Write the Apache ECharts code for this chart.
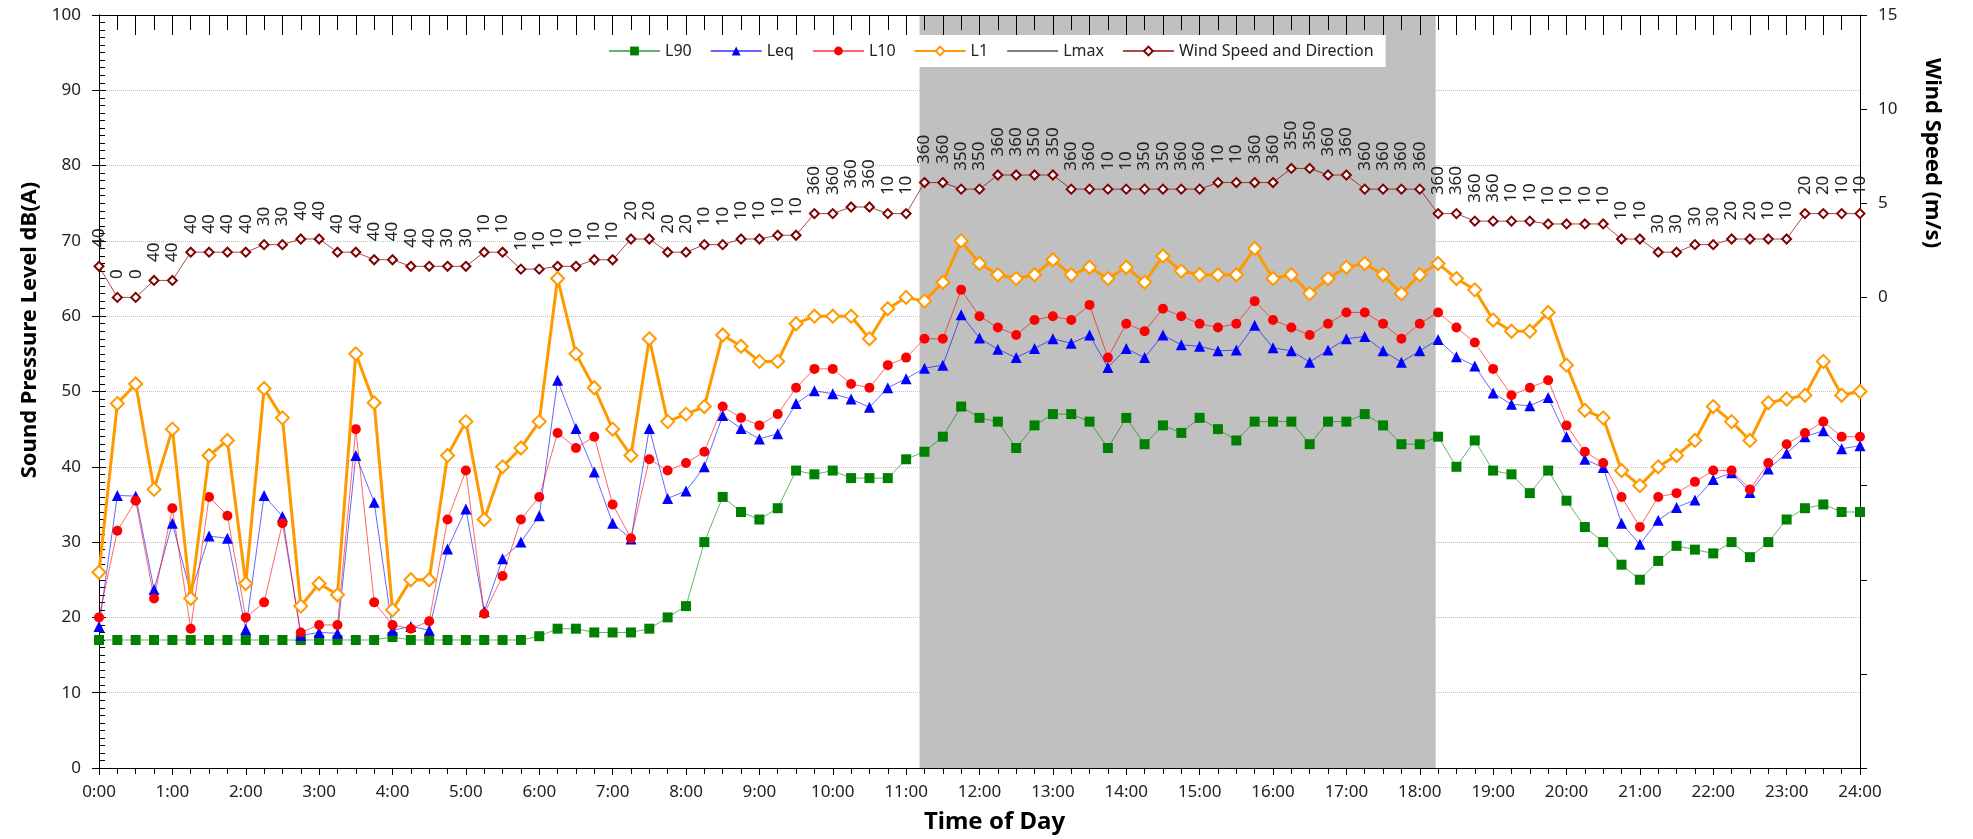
<!DOCTYPE html>
<html>
<head>
<meta charset="utf-8">
<script src="https://cdn.jsdelivr.net/npm/echarts@6/dist/echarts.min.js"></script>
<style>
  html, body { margin: 0; padding: 0; background: #fff; }
  #chart { width: 1973px; height: 839px; }
</style>
</head>
<body>
<div id="chart"></div>
<script>
// 15-minute intervals, 0:00 .. 24:00
const l90 = [17, 17, 17, 17, 17, 17, 17, 17, 17, 17, 17, 17, 17, 17, 17, 17, 17.4, 17, 17, 17, 17, 17, 17, 17, 17.5,
  18.5, 18.5, 18, 18, 18, 18.5, 20, 21.5, 30, 36, 34, 33, 34.5, 39.5, 39, 39.5, 38.5, 38.5, 38.5, 41, 42, 44, 48,
  46.5, 46, 42.5, 45.5, 47, 47, 46, 42.5, 46.5, 43, 45.5, 44.5, 46.5, 45, 43.5, 46, 46, 46, 43, 46, 46, 47, 45.5, 43, 43,
  44, 40, 43.5, 39.5, 39, 36.5, 39.5, 35.5, 32, 30, 27, 25, 27.5, 29.5, 29, 28.5, 30, 28, 30, 33, 34.5, 35, 34, 34]
const leq = [18.8, 36.2, 36.1, 23.7, 32.5, 23.2, 30.8, 30.5, 18.4, 36.2, 33.4, 17.6, 18, 17.9, 41.5, 35.3, 18.3, 18.8, 18.3, 29.1, 34.4, 20.8, 27.8, 30, 33.5,
  51.5, 45.1, 39.3, 32.5, 30.4, 45.1, 35.8, 36.8, 40, 46.8, 45.1, 43.7, 44.4, 48.4, 50.1, 49.7, 49, 47.9, 50.5, 51.7, 53.1, 53.5, 60.2,
  57.1, 55.6, 54.5, 55.7, 57, 56.4, 57.5, 53.2, 55.7, 54.5, 57.5, 56.2, 56, 55.4, 55.5, 58.8, 55.8, 55.4, 53.9, 55.5, 57, 57.3, 55.4, 53.9, 55.4,
  56.9, 54.6, 53.4, 49.8, 48.3, 48.1, 49.2, 44, 41, 39.9, 32.5, 29.7, 32.9, 34.6, 35.6, 38.3, 39.2, 36.6, 39.7, 41.8, 44, 44.8, 42.4, 42.8]
const l10 = [20, 31.5, 35.5, 22.5, 34.5, 18.5, 36, 33.5, 20, 22, 32.5, 18, 19, 19, 45, 22, 19, 18.5, 19.5, 33, 39.5, 20.5, 25.5, 33, 36,
  44.5, 42.5, 44, 35, 30.5, 41, 39.5, 40.5, 42, 48, 46.5, 45.5, 47, 50.5, 53, 53, 51, 50.5, 53.5, 54.5, 57, 57, 63.5,
  60, 58.5, 57.5, 59.5, 60, 59.5, 61.5, 54.5, 59, 58, 61, 60, 59, 58.5, 59, 62, 59.5, 58.5, 57.5, 59, 60.5, 60.5, 59, 57, 59,
  60.5, 58.5, 56.5, 53, 49.5, 50.5, 51.5, 45.5, 42, 40.5, 36, 32, 36, 36.5, 38, 39.5, 39.5, 37, 40.5, 43, 44.5, 46, 44, 44]
const l1 = [26, 48.4, 51, 37, 45, 22.5, 41.5, 43.5, 24.5, 50.4, 46.5, 21.5, 24.5, 23, 55, 48.5, 21, 25, 25, 41.5, 46, 33, 40, 42.5, 46,
  65, 55, 50.5, 45, 41.5, 57, 46, 47, 48, 57.5, 56, 54, 54, 59, 60, 60, 60, 57, 61, 62.5, 62, 64.5, 70,
  67, 65.5, 65, 65.5, 67.5, 65.5, 66.5, 65, 66.5, 64.5, 68, 66, 65.5, 65.5, 65.5, 69, 65, 65.5, 63, 65, 66.5, 67, 65.5, 63, 65.5,
  67, 65, 63.5, 59.5, 58, 58, 60.5, 53.5, 47.5, 46.5, 39.5, 37.5, 40, 41.5, 43.5, 48, 46, 43.5, 48.5, 49, 49.5, 54, 49.5, 50]
const windSpeed = [1.65, 0, 0, 0.9, 0.9, 2.4, 2.4, 2.4, 2.4, 2.8, 2.8, 3.1, 3.1, 2.4, 2.4, 2.0, 2.0, 1.65, 1.65, 1.65, 1.65, 2.4, 2.4,
  1.5, 1.5, 1.65, 1.65, 2.0, 2.0, 3.1, 3.1, 2.4, 2.4, 2.8, 2.8, 3.1, 3.1, 3.3, 3.3, 4.45, 4.45, 4.8, 4.8, 4.45, 4.45, 6.1, 6.1,
  5.75, 5.75, 6.5, 6.5, 6.5, 6.5, 5.75, 5.75, 5.75, 5.75, 5.75, 5.75, 5.75, 5.75, 6.1, 6.1, 6.1, 6.1, 6.85, 6.85, 6.5, 6.5, 5.75, 5.75, 5.75, 5.75,
  4.45, 4.45, 4.05, 4.05, 4.05, 4.05, 3.9, 3.9, 3.9, 3.9, 3.1, 3.1, 2.4, 2.4, 2.8, 2.8, 3.1, 3.1, 3.1, 3.1, 4.45, 4.45, 4.45, 4.45]
const windDir = [40, 0, 0, 40, 40, 40, 40, 40, 40, 30, 30, 40, 40, 40, 40, 40, 40, 40, 40, 30, 30, 10, 10,
  10, 10, 10, 10, 10, 10, 20, 20, 20, 20, 10, 10, 10, 10, 10, 10, 360, 360, 360, 360, 10, 10, 360, 360,
  350, 350, 360, 360, 350, 350, 360, 360, 10, 10, 350, 350, 360, 360, 10, 10, 360, 360, 350, 350, 360, 360, 360, 360, 360, 360,
  360, 360, 360, 360, 10, 10, 10, 10, 10, 10, 10, 10, 30, 30, 30, 30, 20, 20, 10, 10, 20, 20, 10, 10]
const hourLabels = ['0:00', '1:00', '2:00', '3:00', '4:00', '5:00', '6:00', '7:00', '8:00', '9:00', '10:00', '11:00', '12:00',
  '13:00', '14:00', '15:00', '16:00', '17:00', '18:00', '19:00', '20:00', '21:00', '22:00', '23:00', '24:00']
// shaded period, minutes from midnight
const shadeStart = 671
const shadeEnd = 1093

const minutes = []
for (let i = 0; i < l90.length; i++) minutes.push(i * 15)
const pairs = arr => arr.map((v, i) => [minutes[i], v])

const font = 'Noto Sans'
const txt = '#222'

let myChart = echarts.init(document.getElementById('chart'))
let option = {
  animation: false,
  textStyle: { fontFamily: font },
  grid: { left: 99, right: 113, top: 15, bottom: 71, outerBoundsMode: 'none' },
  legend: {
    left: 596,
    top: 35,
    padding: [8, 12, 8, 12],
    backgroundColor: '#fff',
    itemWidth: 51,
    itemHeight: 11,
    itemGap: 18,
    textStyle: { fontSize: 16, color: txt, fontFamily: font },
    data: ['L90', 'Leq', 'L10', 'L1', { name: 'Lmax', itemStyle: { opacity: 0 } }, 'Wind Speed and Direction']
  },
  xAxis: [
    {
      type: 'value',
      min: 0,
      max: 1440,
      interval: 60,
      z: 10,
      name: 'Time of Day',
      nameLocation: 'middle',
      nameGap: 42,
      nameTextStyle: { fontSize: 24, fontWeight: 'bold', color: '#000', padding: [0, 0, 0, 30] },
      axisLine: { onZero: false, lineStyle: { color: '#000', width: 1 } },
      axisTick: { length: 7, lineStyle: { color: '#000' } },
      minorTick: { show: true, splitNumber: 4, length: 6, lineStyle: { color: '#000' } },
      splitLine: { show: false },
      axisLabel: {
        fontSize: 17,
        color: txt,
        margin: 16,
        formatter: v => hourLabels[v / 60]
      }
    },
    {
      type: 'value',
      position: 'top',
      min: 0,
      max: 1440,
      interval: 30,
      z: 10,
      axisLine: { onZero: false, lineStyle: { color: '#000', width: 1 } },
      axisTick: { inside: true, length: 20, lineStyle: { color: '#000' } },
      minorTick: { show: true, splitNumber: 2, length: 15, lineStyle: { color: '#000' } },
      axisLabel: { show: false },
      splitLine: { show: false }
    }
  ],
  yAxis: [
    {
      type: 'value',
      position: 'left',
      min: 0,
      max: 100,
      interval: 10,
      name: 'Sound Pressure Level dB(A)',
      nameLocation: 'middle',
      nameGap: 58,
      nameTextStyle: { fontSize: 22, fontWeight: 'bold', color: '#000', padding: [0, 0, 0, 123] },
      axisLine: { show: true, onZero: false, lineStyle: { color: '#000', width: 1 } },
      axisTick: { show: true, length: 7, lineStyle: { color: '#000' } },
      axisLabel: { fontSize: 17, color: txt, margin: 18 },
      splitLine: { lineStyle: { color: '#bfbfbf', type: 'dotted', width: 1 } }
    },
    {
      type: 'value',
      position: 'right',
      min: -25,
      max: 15,
      interval: 5,
      name: 'Wind Speed (m/s)',
      nameLocation: 'middle',
      nameRotate: -90,
      nameGap: 61,
      nameTextStyle: { fontSize: 22, fontWeight: 'bold', color: '#000', padding: [0, 477, 0, 0] },
      axisLine: { show: true, onZero: false, lineStyle: { color: '#000', width: 1 } },
      axisTick: { show: true, length: 7, lineStyle: { color: '#000' } },
      axisLabel: { fontSize: 17, color: txt, margin: 18, formatter: v => (v >= 0 ? String(v) : '') },
      splitLine: { show: false }
    },
    {
      // inner minor ticks of the left axis
      type: 'value',
      position: 'left',
      min: 0,
      max: 100,
      interval: 10,
      axisLine: { show: true, onZero: false, lineStyle: { color: '#000', width: 1 } },
      axisTick: { show: true, inside: true, length: 7, lineStyle: { color: '#000' } },
      minorTick: { show: true, splitNumber: 10, length: 6, lineStyle: { color: '#000' } },
      axisLabel: { show: false },
      splitLine: { show: false }
    }
  ],
  series: [
    {
      name: 'shade',
      type: 'line',
      z: 1,
      data: [],
      markArea: {
        silent: true,
        itemStyle: { color: '#c0c0c0', opacity: 1 },
        data: [[{ xAxis: shadeStart }, { xAxis: shadeEnd }]]
      }
    },
    {
      name: 'L90',
      type: 'line',
      z: 3,
      data: pairs(l90),
      showAllSymbol: true,
      symbol: 'rect',
      symbolSize: 10,
      itemStyle: { color: '#008000' },
      lineStyle: { color: '#008000', width: 1, opacity: 0.6 }
    },
    {
      name: 'Leq',
      type: 'line',
      z: 3,
      data: pairs(leq),
      showAllSymbol: true,
      symbol: 'triangle',
      symbolSize: 11,
      itemStyle: { color: '#0000ff' },
      lineStyle: { color: '#0000ff', width: 1, opacity: 0.6 }
    },
    {
      name: 'L10',
      type: 'line',
      z: 3,
      data: pairs(l10),
      showAllSymbol: true,
      symbol: 'circle',
      symbolSize: 10,
      itemStyle: { color: '#ff0000' },
      lineStyle: { color: '#ff0000', width: 1, opacity: 0.6 }
    },
    {
      name: 'L1',
      type: 'line',
      z: 4,
      data: pairs(l1),
      showAllSymbol: true,
      symbol: 'diamond',
      symbolSize: 13,
      itemStyle: { color: '#fff', borderColor: '#ff9900', borderWidth: 2 },
      lineStyle: { color: '#ff9900', width: 3 }
    },
    {
      name: 'Lmax',
      type: 'line',
      data: [],
      symbol: 'none',
      itemStyle: { color: '#808080' },
      lineStyle: { color: '#808080', width: 1 }
    },
    {
      name: 'Wind Speed and Direction',
      type: 'line',
      z: 3,
      xAxisIndex: 0,
      yAxisIndex: 1,
      data: pairs(windSpeed),
      showAllSymbol: true,
      symbol: 'diamond',
      symbolSize: 9,
      itemStyle: { color: '#fff', borderColor: '#800000', borderWidth: 2 },
      lineStyle: { color: '#800000', width: 1, opacity: 0.7 },
      label: {
        show: true,
        position: 'top',
        distance: 13,
        rotate: 90,
        align: 'left',
        verticalAlign: 'middle',
        fontSize: 17,
        color: txt,
        fontFamily: font,
        formatter: p => String(windDir[p.dataIndex])
      }
    }
  ]
}
myChart.setOption(option)
</script>
</body>
</html>
